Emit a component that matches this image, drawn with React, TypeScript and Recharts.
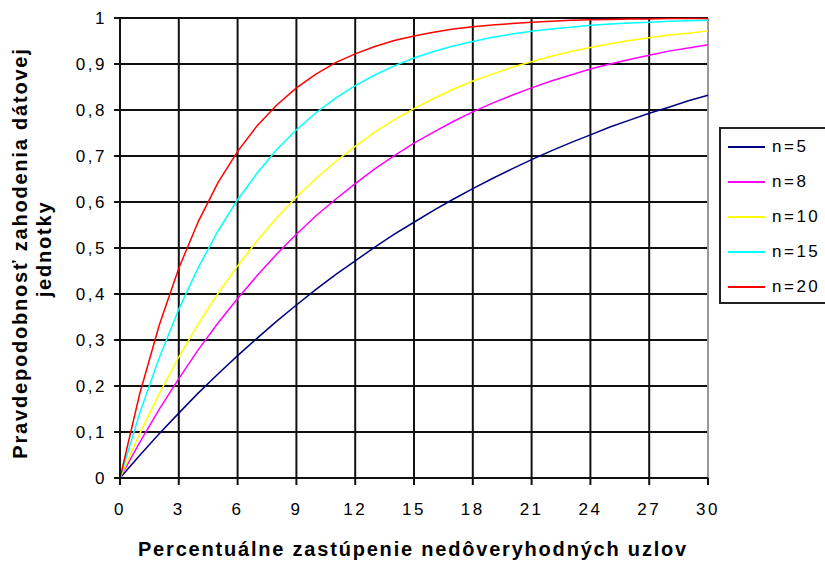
import { LineChart, Line, XAxis, YAxis, CartesianGrid, ReferenceLine } from 'recharts'

const percent = [0, 1, 2, 3, 4, 5, 6, 7, 8, 9, 10, 11, 12, 13, 14, 15, 16, 17, 18, 19, 20, 21, 22, 23, 24, 25, 26, 27, 28, 29, 30]

const n5 = [0, 0.049, 0.096, 0.141, 0.185, 0.226, 0.266, 0.304, 0.341, 0.376, 0.41, 0.442, 0.472, 0.502, 0.53, 0.556, 0.582, 0.606, 0.629, 0.651, 0.672, 0.692, 0.711, 0.729, 0.746, 0.763, 0.778, 0.793, 0.806, 0.82, 0.832]
const n8 = [0, 0.077, 0.149, 0.216, 0.279, 0.337, 0.39, 0.44, 0.487, 0.53, 0.57, 0.606, 0.64, 0.672, 0.701, 0.728, 0.752, 0.775, 0.796, 0.815, 0.832, 0.848, 0.863, 0.876, 0.889, 0.9, 0.91, 0.919, 0.928, 0.935, 0.942]
const n10 = [0, 0.096, 0.183, 0.263, 0.335, 0.401, 0.461, 0.516, 0.566, 0.611, 0.651, 0.688, 0.721, 0.752, 0.779, 0.803, 0.825, 0.845, 0.863, 0.878, 0.893, 0.905, 0.917, 0.927, 0.936, 0.944, 0.951, 0.957, 0.963, 0.967, 0.972]
const n15 = [0, 0.14, 0.261, 0.367, 0.458, 0.537, 0.605, 0.663, 0.714, 0.757, 0.794, 0.826, 0.853, 0.876, 0.896, 0.913, 0.927, 0.939, 0.949, 0.958, 0.965, 0.971, 0.976, 0.98, 0.984, 0.987, 0.989, 0.991, 0.993, 0.994, 0.995]
const n20 = [0, 0.182, 0.332, 0.456, 0.558, 0.642, 0.71, 0.766, 0.811, 0.848, 0.878, 0.903, 0.922, 0.938, 0.951, 0.961, 0.969, 0.976, 0.981, 0.985, 0.988, 0.991, 0.993, 0.995, 0.996, 0.997, 0.998, 0.998, 0.999, 0.999, 0.999]

const xTicks = [0, 3, 6, 9, 12, 15, 18, 21, 24, 27, 30]
const yTicks = [0, 0.1, 0.2, 0.3, 0.4, 0.5, 0.6, 0.7, 0.8, 0.9, 1]

const series = [
  { key: 'n5', name: 'n=5', color: '#000080' },
  { key: 'n8', name: 'n=8', color: '#FF00FF' },
  { key: 'n10', name: 'n=10', color: '#FFFF00' },
  { key: 'n15', name: 'n=15', color: '#00FFFF' },
  { key: 'n20', name: 'n=20', color: '#FF0000' },
]

const data = percent.map((p, i) => ({ p, n5: n5[i], n8: n8[i], n10: n10[i], n15: n15[i], n20: n20[i] }))

const font = '"Liberation Sans", Arial, sans-serif'

function LegendBox() {
  return (
    <div style={{ position: 'absolute', left: 719, top: 127, border: '2px solid #222', background: '#fff', width: 120, height: 177, boxSizing: 'border-box', paddingTop: 1 }}>
      {series.map(s => (
        <div key={s.key} style={{ display: 'flex', alignItems: 'center', height: 34.8 }}>
          <div style={{ width: 37, height: 2, background: s.color, marginLeft: 7, marginRight: 7 }} />
          <span style={{ fontSize: 17, color: '#000', letterSpacing: 2.5, lineHeight: '20px' }}>{s.name}</span>
        </div>
      ))}
    </div>
  )
}

export default function App() {
  return (
    <div style={{ position: 'absolute', left: 0, top: 0, width: 825, height: 563, background: '#fff', fontFamily: font, overflow: 'hidden' }}>
      <LineChart width={825} height={563} data={data} margin={{ top: 18, right: 117, bottom: 0, left: 0 }}>
        <CartesianGrid stroke="#111" strokeWidth={2} />
        <XAxis
          dataKey="p"
          type="number"
          domain={[0, 30]}
          ticks={xTicks}
          height={85}
          stroke="#111"
          strokeWidth={2}
          tickSize={7}
          tickMargin={18}
          tick={{ fontSize: 17, fill: '#000', fontFamily: font, letterSpacing: 2.5 }}
        />
        <YAxis
          type="number"
          domain={[0, 1]}
          ticks={yTicks}
          width={120}
          stroke="#111"
          strokeWidth={2}
          tickSize={6}
          tickMargin={7}
          tick={{ fontSize: 17, fill: '#000', fontFamily: font, letterSpacing: 2.5 }}
          tickFormatter={(v: number) => String(Math.round(v * 10) / 10).replace('.', ',')}
        />
        <ReferenceLine x={30} stroke="#999" strokeWidth={2} />
        {series.map(s => (
          <Line
            key={s.key}
            type="linear"
            dataKey={s.key}
            name={s.name}
            stroke={s.color}
            strokeWidth={1.5}
            dot={false}
            isAnimationActive={false}
          />
        ))}
      </LineChart>
      <LegendBox />
      <svg width={825} height={563} style={{ position: 'absolute', left: 0, top: 0, pointerEvents: 'none' }}>
        <g fontFamily={font} fontSize={20} fontWeight="bold" fill="#000" textAnchor="middle" letterSpacing={1.8}>
          <text transform="translate(27,253) rotate(-90)">Pravdepodobnosť zahodenia dátovej</text>
          <text transform="translate(51,249) rotate(-90)">jednotky</text>
          <text x={413} y={556}>Percentuálne zastúpenie nedôveryhodných uzlov</text>
        </g>
      </svg>
    </div>
  )
}
